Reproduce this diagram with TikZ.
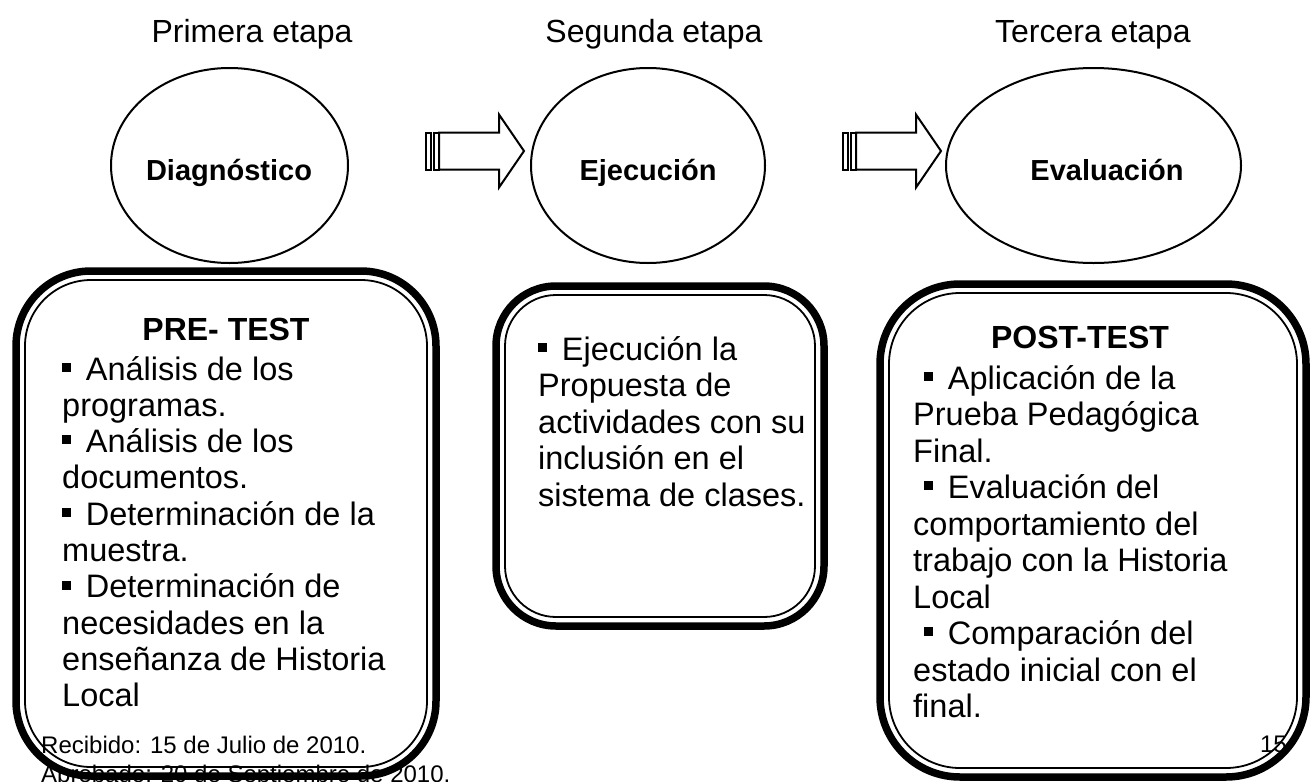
\documentclass[tikz,border=0pt]{standalone}
\usepackage{fontspec}
\setmainfont{Liberation Sans}
\usetikzlibrary{shapes.geometric,calc}
\newcommand\blt{\rule[0.25em]{0.28em}{0.28em}\hspace{0.45em}}
\begin{document}
\begin{tikzpicture}[x=1pt,y=-1pt,
 stage/.style={font=\fontsize{32}{36}\selectfont, anchor=base, inner sep=0},
 ell/.style={draw, ellipse, line width=2pt, minimum height=195pt, inner sep=0},
 elab/.style={font=\fontsize{29}{34}\selectfont\bfseries, anchor=base, inner sep=0},
 txt/.style={font=\fontsize{32.5}{36}\selectfont, anchor=base west, inner sep=0},
 head/.style={font=\fontsize{32}{36}\selectfont\bfseries, anchor=base, inner sep=0},
 small/.style={font=\fontsize{24}{28}\selectfont, anchor=base west, inner sep=0},
 outerb/.style={draw, line width=7.5pt, rounded corners=#1, inner sep=0, outer sep=0},
 innerb/.style={line width=1.8pt, rounded corners=#1},
 blockarrow/.style={line width=2pt, line join=miter}
]
\useasboundingbox (0,0) rectangle (1310,782);
\fill[white] (0,0) rectangle (1310,782);

% stage titles
\node[stage] (s1) at (252,42) {Primera etapa};
\node[stage] (s2) at (654,42) {Segunda etapa};
\node[stage] (s3) at (1093,42) {Tercera etapa};

% ellipses
\node[ell, minimum width=237pt] (e1) at (229.5,165.5) {};
\node[ell, minimum width=234pt] (e2) at (648,165.5) {};
\node[ell, minimum width=295pt] (e3) at (1093.5,165.5) {};
\node[elab] (l1) at (229,180) {Diagnóstico};
\node[elab] (l2) at (648,180) {Ejecución};
\node[elab] (l3) at (1107,180) {Evaluación};

% block arrows
\coordinate (a1) at ($(e1.east)+(77,-14.5)$);
\coordinate (a2) at ($(e2.east)+(77,-14.5)$);
\foreach \a in {a1,a2}{
 \begin{scope}[shift={(\a)}, blockarrow]
  \draw (0,-18.5) rectangle (5,18.5);
  \draw (8,-18.5) rectangle (13,18.5);
  \draw (13,-18.5) -- (73,-18.5) -- (73,-36.5) -- (98,0) -- (73,36.5) -- (73,18.5) -- (13,18.5) -- cycle;
 \end{scope}
}

% footer texts (under the box lines)
\node[small] (rec) at (41,753) {Recibido: 15 de Julio de 2010.};
\node[small] (apr) at (41,782) {Aprobado: 20 de Septiembre de 2010.};
\node[small, anchor=base east] (pg) at (1287,752) {15};

% box 1
\node[outerb=75pt, minimum width=420pt, minimum height=505pt] (b1) at (226,523.5) {};
\draw[innerb=66pt] ($(b1.north west)+(9,9)$) rectangle ($(b1.south east)+(-9,-9)$);
\node[head] (h1) at (226,340) {PRE- TEST};
\foreach \t [count=\i] in {{\blt Análisis de los},{programas.},{\blt Análisis de los},{documentos.},{\blt Determinación de la},{muestra.},{\blt Determinación de},{necesidades en la},{enseñanza de Historia},{Local}}
 \node[txt] (t1-\i) at (62,{380+(\i-1)*36.3}) {\t};

% box 2
\node[outerb=60pt, minimum width=328pt, minimum height=340pt] (b2) at (660,456) {};
\draw[innerb=51pt] ($(b2.north west)+(9,9)$) rectangle ($(b2.south east)+(-9,-9)$);
\foreach \t [count=\i] in {{\blt Ejecución la},{Propuesta de},{actividades con su},{inclusión en el},{sistema de clases.}}
 \node[txt] (t2-\i) at (538,{360+(\i-1)*36.5}) {\t};

% box 3
\node[outerb=80pt, minimum width=426pt, minimum height=493pt] (b3) at (1093,530.5) {};
\draw[innerb=71pt] ($(b3.north west)+(9,9)$) rectangle ($(b3.south east)+(-9,-9)$);
\node[head] (h3) at (1080,348) {POST-TEST};
\foreach \x/\t [count=\i] in {924/{\blt Aplicación de la},913/{Prueba Pedagógica},913/{Final.},924/{\blt Evaluación del},913/{comportamiento del},913/{trabajo con la Historia},913/{Local},924/{\blt Comparación del},913/{estado inicial con el},913/{final.}}
 \node[txt] (t3-\i) at (\x,{389+(\i-1)*36.5}) {\t};
\end{tikzpicture}
\end{document}
